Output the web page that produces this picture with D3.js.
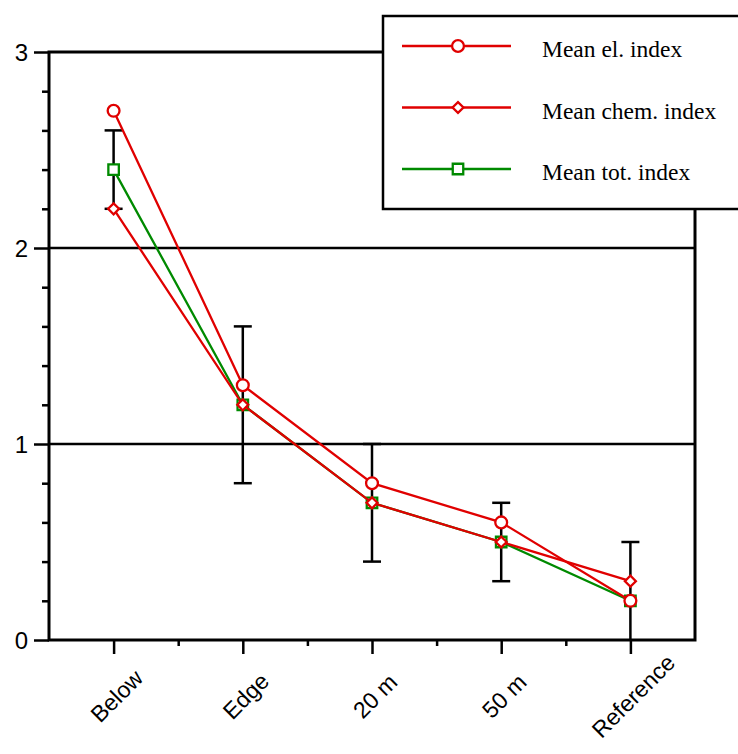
<!DOCTYPE html>
<html><head><meta charset="utf-8">
<script src="https://cdn.jsdelivr.net/npm/d3@7"></script>
<style>
html,body{margin:0;padding:0;background:#fff;}
svg{display:block;}
</style></head>
<body>
<svg id="c" width="738" height="754"></svg>
<script>
const categories = ["Below", "Edge", "20 m", "50 m", "Reference"];
const meanEl   = [2.7, 1.3, 0.8, 0.6, 0.2];
const meanChem = [2.2, 1.2, 0.7, 0.5, 0.3];
const meanTot  = [2.4, 1.2, 0.7, 0.5, 0.2];
const errLow   = [2.2, 0.8, 0.4, 0.3, 0.0];
const errHigh  = [2.6, 1.6, 1.0, 0.7, 0.5];
const yMajor = [0, 1, 2, 3];
const yMinor = [0.2,0.4,0.6,0.8,1.2,1.4,1.6,1.8,2.2,2.4,2.6,2.8];
const xMinor = [1.5, 2.5, 3.5, 4.5];
const legendLabels = ["Mean el. index", "Mean chem. index", "Mean tot. index"];

const RED = "#e00000", GREEN = "#008a00";
const svg = d3.select("#c");
const L = 49, R = 695, T = 52, B = 640;
const x = d3.scaleLinear().domain([0.5, 5.5]).range([L, R]);
const y = d3.scaleLinear().domain([0, 3]).range([B, T]);
const idx = categories.map((d, i) => i + 1);

// gridlines at 1, 2
svg.append("g").selectAll("line").data([1, 2]).join("line")
  .attr("x1", L).attr("x2", R).attr("y1", d => y(d)).attr("y2", d => y(d))
  .attr("stroke", "#000").attr("stroke-width", 2.5);

// frame
svg.append("rect").attr("x", L).attr("y", T).attr("width", R - L).attr("height", B - T)
  .attr("fill", "none").attr("stroke", "#000").attr("stroke-width", 3);

// y axis
const yAx = svg.append("g").attr("transform", `translate(${L},0)`)
  .call(d3.axisLeft(y).tickValues(yMajor).tickSize(15).tickPadding(6).tickFormat(d3.format("d")));
yAx.select(".domain").remove();
yAx.selectAll(".tick line").attr("stroke-width", 2.5);
yAx.selectAll("text").attr("font-family", "Liberation Sans, Arial, sans-serif").attr("font-size", 24).attr("fill", "#000").attr("dy", "0.36em");
const yMin = svg.append("g").attr("transform", `translate(${L},0)`)
  .call(d3.axisLeft(y).tickValues(yMinor).tickSize(7).tickFormat(""));
yMin.select(".domain").remove();
yMin.selectAll(".tick line").attr("stroke-width", 2.5);

// x axis
const xAx = svg.append("g").attr("transform", `translate(0,${B})`)
  .call(d3.axisBottom(x).tickValues(idx).tickSize(14).tickFormat(""));
xAx.select(".domain").remove();
xAx.selectAll(".tick line").attr("stroke-width", 2.5);
const xMin = svg.append("g").attr("transform", `translate(0,${B})`)
  .call(d3.axisBottom(x).tickValues(xMinor).tickSize(6).tickFormat(""));
xMin.select(".domain").remove();
xMin.selectAll(".tick line").attr("stroke-width", 2.5);
svg.append("g").selectAll("text").data(categories).join("text")
  .attr("transform", (d, i) => `translate(${x(i + 1) + 3},696) rotate(-45)`)
  .attr("text-anchor", "middle").attr("dy", "0.35em")
  .attr("font-family", "Liberation Sans, Arial, sans-serif").attr("font-size", 23)
  .text(d => d);

// error bars
const eb = svg.append("g").attr("stroke", "#000").attr("stroke-width", 2.5);
idx.forEach((v, i) => {
  eb.append("line").attr("x1", x(v)).attr("x2", x(v)).attr("y1", y(errLow[i])).attr("y2", y(errHigh[i]));
  eb.append("line").attr("x1", x(v) - 9).attr("x2", x(v) + 9).attr("y1", y(errHigh[i])).attr("y2", y(errHigh[i]));
  if (errLow[i] > 0)
    eb.append("line").attr("x1", x(v) - 9).attr("x2", x(v) + 9).attr("y1", y(errLow[i])).attr("y2", y(errLow[i]));
});

const line = d3.line().x((d, i) => x(i + 1)).y(d => y(d));
const symCircle = d3.symbol().type(d3.symbolCircle).size(110);
const symSquare = d3.symbol().type(d3.symbolSquare).size(110);
const symDiamond = d3.symbol().type(d3.symbolSquare).size(60);

function series(vals, color, sym, rot) {
  const g = svg.append("g");
  g.append("path").attr("d", line(vals)).attr("fill", "none").attr("stroke", color).attr("stroke-width", 2.3);
  g.selectAll("path.m").data(vals).join("path").attr("class", "m")
    .attr("transform", (d, i) => `translate(${x(i + 1)},${y(d)}) rotate(${rot})`)
    .attr("d", sym).attr("fill", "#fff").attr("stroke", color).attr("stroke-width", 2.3);
}
series(meanTot, GREEN, symSquare, 0);
series(meanEl, RED, symCircle, 0);
series(meanChem, RED, symDiamond, 45);

// legend
const lg = svg.append("g");
lg.append("rect").attr("x", 383).attr("y", 16).attr("width", 380).attr("height", 193)
  .attr("fill", "#fff").attr("stroke", "#000").attr("stroke-width", 2.5);
const legendColors = [RED, RED, GREEN];
const legendSyms = [symCircle, symDiamond, symSquare];
const legendRot = [0, 45, 0];
legendLabels.forEach((lab, i) => {
  const yy = 46 + i * 61.5;
  lg.append("line").attr("x1", 402).attr("x2", 511).attr("y1", yy).attr("y2", yy)
    .attr("stroke", legendColors[i]).attr("stroke-width", 2.3);
  lg.append("path").attr("transform", `translate(458,${yy}) rotate(${legendRot[i]})`).attr("d", legendSyms[i]())
    .attr("fill", "#fff").attr("stroke", legendColors[i]).attr("stroke-width", 2.3);
  lg.append("text").attr("x", 542).attr("y", yy + 11)
    .attr("font-family", "Liberation Serif, Times New Roman, serif").attr("font-size", 23.5)
    .text(lab);
});
</script>
</body></html>
